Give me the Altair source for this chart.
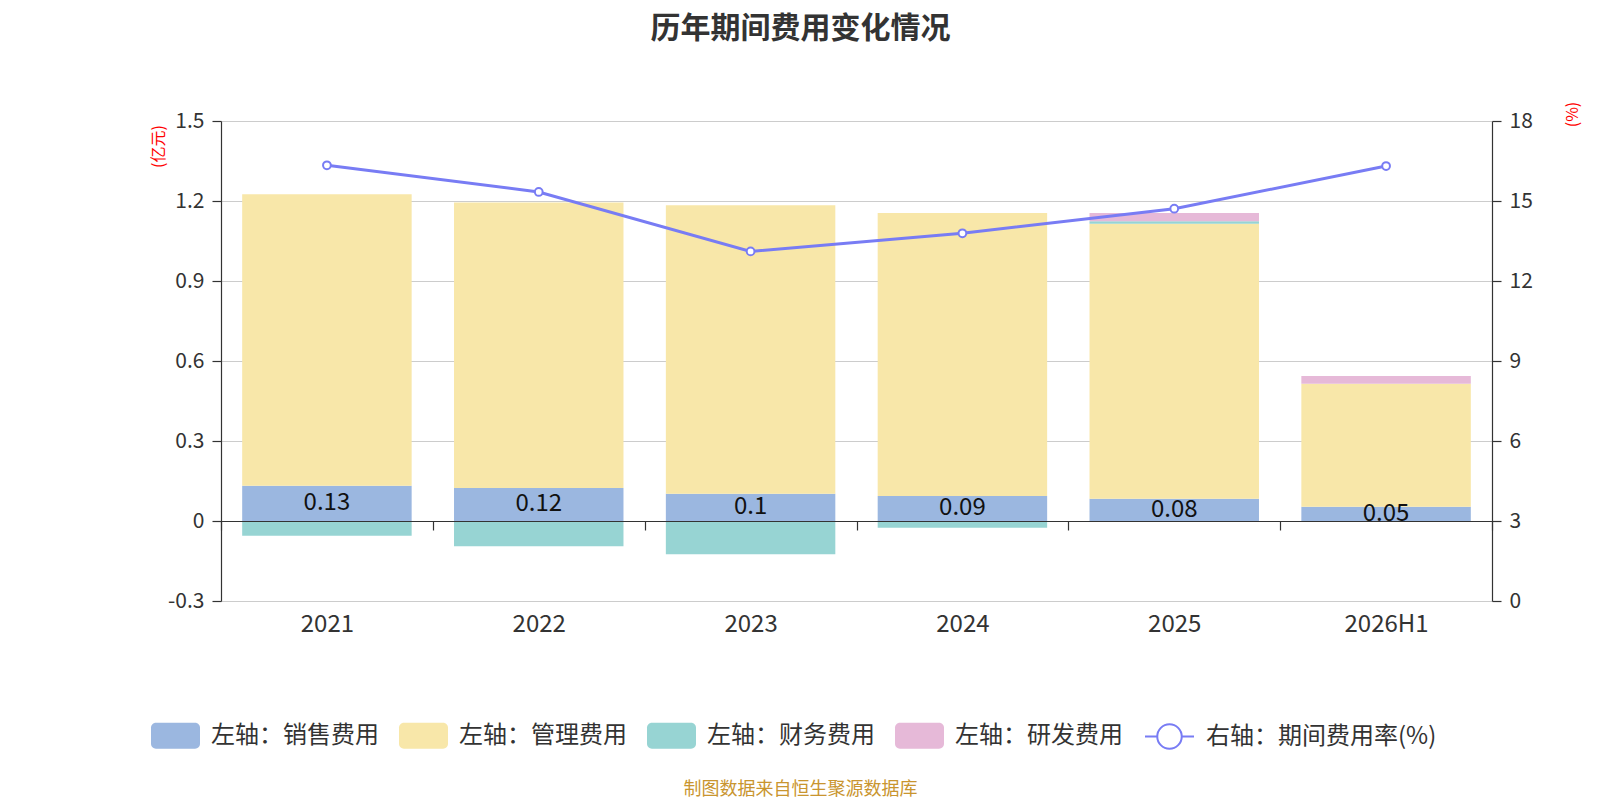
import altair as alt
import pandas as pd

years = ["2021", "2022", "2023", "2024", "2025", "2026H1"]
sales = [0.132, 0.124, 0.102, 0.094, 0.083, 0.053]
admin = [1.093, 1.070, 1.082, 1.061, 1.032, 0.462]
finance = [-0.055, -0.095, -0.125, -0.025, 0.009, 0.0]
rd = [0.0, 0.0, 0.0, 0.0, 0.031, 0.029]
rate = [16.34, 15.34, 13.11, 13.79, 14.71, 16.31]

names = ["左轴：销售费用", "左轴：管理费用", "左轴：财务费用", "左轴：研发费用"]
colors = ["#9bb7e0", "#f8e7a9", "#97d4d3", "#e6b9d8"]
line_name = "右轴：期间费用率(%)"
line_color = "#787cf4"
left_ticks = [-0.3, 0, 0.3, 0.6, 0.9, 1.2, 1.5]
right_ticks = [0, 3, 6, 9, 12, 15, 18]

FONT = "Noto Sans CJK SC"

rows = []
for i, y in enumerate(years):
    for k, (nm, vals) in enumerate(zip(names, [sales, admin, finance, rd])):
        rows.append({"year": y, "type": nm, "value": vals[i], "ord": k})
df_bars = pd.DataFrame(rows)
df_sales = pd.DataFrame({"year": years, "sales": sales})
df_line = pd.DataFrame({"year": years, "rate": rate, "series": [line_name] * len(years)})

x_scale = alt.Scale(domain=years, paddingInner=0, paddingOuter=0)
x_axis = alt.Axis(
    offset=-80, zindex=1, tickBand="extent", domainColor="#333", tickColor="#333",
    domainWidth=1.2, tickWidth=1.2,
    tickSize=9, labelFontSize=24, labelColor="#333", labelPadding=82, labelAngle=0,
    title="制图数据来自恒生聚源数据库", titleColor="#c9952f", titleFontSize=18,
    titleFontWeight="normal", titleX=579, titleY=268, titleBaseline="middle",
    titleAlign="center", grid=False,
)
yl_scale = alt.Scale(domain=[-0.3, 1.5], nice=False, zero=False)
yl_axis = alt.Axis(
    values=left_ticks, labelExpr="'' + round(datum.value * 10) / 10",
    grid=True, gridColor="#cccccc", domainColor="#333", tickColor="#333", tickSize=9,
    domainWidth=1.2, tickWidth=1.2,
    labelPadding=8, labelFontSize=21, labelColor="#333",
    title="(亿元)", titleColor="red", titleFontSize=16, titleFontWeight="normal",
    titleAngle=270, titleX=-63, titleY=25, titleBaseline="middle", titleAlign="center",
)
yr_axis = alt.Axis(
    orient="right", values=right_ticks, grid=False, domainColor="#333", tickColor="#333",
    domainWidth=1.2, tickWidth=1.2,
    tickSize=9, labelPadding=8, labelFontSize=21, labelColor="#333",
    title="(%)", titleColor="red", titleFontSize=16, titleFontWeight="normal",
    titleAngle=270, titleX=80, titleY=-7, titleBaseline="middle", titleAlign="center",
)

rrect = ("M-0.8,-0.53 H0.8 A0.2,0.2 0 0 1 1,-0.33 V0.33 A0.2,0.2 0 0 1 0.8,0.53 "
         "H-0.8 A0.2,0.2 0 0 1 -1,0.33 V-0.33 A0.2,0.2 0 0 1 -0.8,-0.53 Z")
line_sym = ("M-1,0 H-0.5 M0.5,0 H1 M-0.5,0 A0.5,0.5 0 1 1 0.5,0 "
            "A0.5,0.5 0 1 1 -0.5,0 Z")

bar_legend = alt.Legend(
    orient="none", legendX=-70, legendY=590, direction="horizontal", title=None,
    symbolType=rrect, symbolSize=2401, symbolStrokeWidth=0, labelFontSize=24,
    labelColor="#333", labelOffset=11, columnPadding=20, padding=0, labelLimit=0,
)
line_legend = alt.Legend(
    orient="none", legendX=923, legendY=590, direction="horizontal", title=None,
    symbolType=line_sym, symbolSize=2401, symbolStrokeWidth=2, symbolFillColor="white",
    labelFontSize=24, labelColor="#333", labelOffset=11, padding=0, labelLimit=0,
)

bars = alt.Chart(df_bars).mark_bar(width=alt.RelativeBandSize(0.8)).encode(
    x=alt.X("year:N", sort=years, scale=x_scale, axis=x_axis),
    y=alt.Y("value:Q", stack="zero", scale=yl_scale, axis=yl_axis),
    color=alt.Color("type:N", scale=alt.Scale(domain=names, range=colors), legend=bar_legend),
    order=alt.Order("ord:Q", sort="ascending"),
)

labels = alt.Chart(df_sales).transform_calculate(mid="datum.sales / 2").mark_text(
    fontSize=24, color="#111", baseline="middle", align="center"
).encode(
    x=alt.X("year:N", sort=years, scale=x_scale, axis=x_axis),
    y=alt.Y("mid:Q", scale=yl_scale, axis=None),
    text=alt.Text("sales:Q", format=".2~f"),
)

line = alt.Chart(df_line).mark_line(
    strokeWidth=3,
    point=alt.OverlayMarkDef(filled=True, fill="white", size=60, strokeWidth=2),
).encode(
    x=alt.X("year:N", sort=years, scale=x_scale, axis=x_axis),
    y=alt.Y("rate:Q", scale=alt.Scale(domain=[0, 18], nice=False), axis=yr_axis),
    stroke=alt.Stroke("series:N", scale=alt.Scale(domain=[line_name], range=[line_color]),
                      legend=line_legend),
)

chart = alt.layer(bars, labels, line).resolve_scale(y="independent").properties(
    width=1271, height=480,
    autosize=alt.AutoSizeParams(type="none"),
    padding={"left": 213, "top": 113, "right": 100, "bottom": 199},
    title=alt.Title("历年期间费用变化情况", fontSize=30, fontWeight="bold", color="#333",
                    anchor="middle", frame="group", dx=-56, offset=57),
).configure(font=FONT).configure_view(stroke=None)

chart.save("out.html", embed_options={"renderer": "svg", "actions": False})
